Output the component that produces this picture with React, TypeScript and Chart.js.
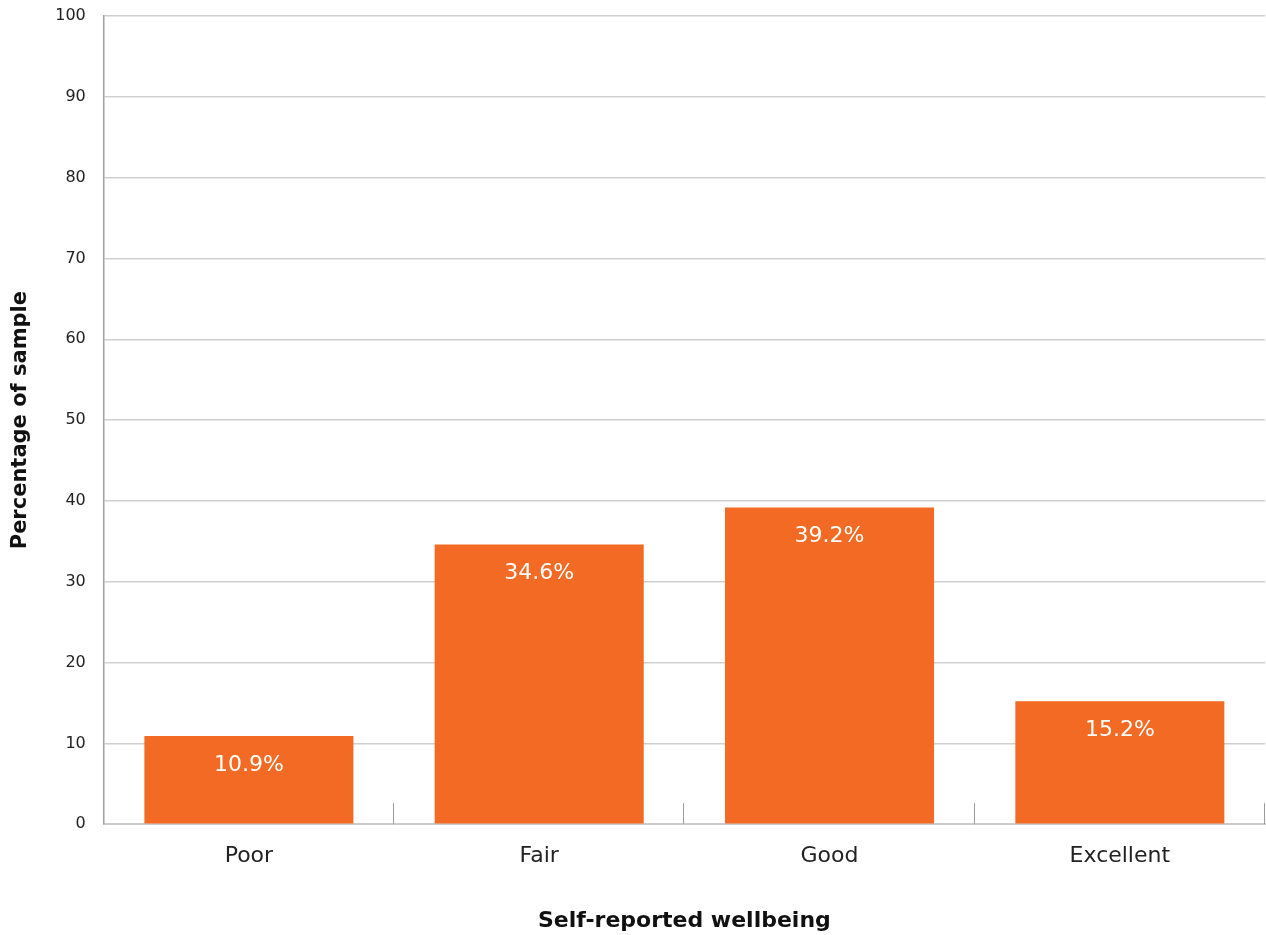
import React, { useEffect, useRef } from "react";
import { Chart, registerables } from "chart.js";

Chart.register(...registerables);

const categories = ["Poor", "Fair", "Good", "Excellent"];
const percentages = [10.9, 34.6, 39.2, 15.2];
const barLabels = ["10.9%", "34.6%", "39.2%", "15.2%"];
const yTickValues = [0, 10, 20, 30, 40, 50, 60, 70, 80, 90, 100];

const FONT = "'DejaVu Sans', 'Open Sans', sans-serif";

const barLabelPlugin = {
  id: "barLabelPlugin",
  afterDatasetsDraw(chart: any) {
    const ctx = chart.ctx;
    const meta = chart.getDatasetMeta(0);
    ctx.save();
    ctx.fillStyle = "#ffffff";
    ctx.font = `22px ${FONT}`;
    ctx.textAlign = "center";
    ctx.textBaseline = "middle";
    meta.data.forEach((bar: any, i: number) => {
      ctx.fillText(barLabels[i], bar.x, bar.y + 29);
    });
    ctx.restore();
  },
};

const categoryTickPlugin = {
  id: "categoryTickPlugin",
  afterDatasetsDraw(chart: any) {
    const ctx = chart.ctx;
    const x = chart.scales.x;
    const area = chart.chartArea;
    ctx.save();
    ctx.strokeStyle = "#9a9a9a";
    ctx.lineWidth = 1;
    for (let i = 1; i <= categories.length; i++) {
      const px = Math.round(x.getPixelForValue(i - 0.5)) - 0.5;
      ctx.beginPath();
      ctx.moveTo(px, area.bottom);
      ctx.lineTo(px, area.bottom - 21);
      ctx.stroke();
    }
    ctx.restore();
  },
};

export default function App() {
  const canvasRef = useRef<HTMLCanvasElement | null>(null);

  useEffect(() => {
    document.body.style.margin = "0";
    const canvas = canvasRef.current;
    if (!canvas) return;
    const chart = new Chart(canvas, {
      type: "bar",
      data: {
        labels: categories,
        datasets: [
          {
            data: percentages,
            backgroundColor: "#F26A23",
            borderWidth: 0,
            categoryPercentage: 0.72,
            barPercentage: 1,
          },
        ],
      },
      options: {
        animation: false,
        responsive: false,
        maintainAspectRatio: false,
        layout: { padding: { top: 16, right: 1, left: 8, bottom: 1 } },
        plugins: {
          legend: { display: false },
          tooltip: { enabled: false },
        },
        scales: {
          x: {
            grid: { display: false, drawTicks: false },
            border: { display: true, color: "#cccccc", width: 2 },
            ticks: {
              color: "#222222",
              font: { family: FONT, size: 22 },
              padding: 19,
            },
            title: {
              display: true,
              text: "Self-reported wellbeing",
              color: "#111111",
              font: { family: FONT, size: 22, weight: "bold" },
              padding: { top: 19, bottom: 0 },
            },
          },
          y: {
            min: 0,
            max: 100,
            afterBuildTicks(scale: any) {
              scale.ticks = yTickValues.map((v) => ({ value: v }));
            },
            afterFit(scale: any) {
              scale.paddingTop = 0;
            },
            grid: { color: "#cfcfcf", lineWidth: 1.5, drawTicks: false },
            border: { display: true, color: "#a0a0a0", width: 1.5 },
            ticks: {
              color: "#222222",
              font: { family: FONT, size: 16 },
              padding: 18,
            },
            title: {
              display: true,
              text: "Percentage of sample",
              color: "#111111",
              font: { family: FONT, size: 21, weight: "bold" },
              padding: { top: 0, bottom: 4 },
            },
          },
        },
      },
      plugins: [barLabelPlugin, categoryTickPlugin],
    });
    return () => chart.destroy();
  }, []);

  return (
    <div style={{ position: "absolute", left: 0, top: 0, width: 1266, height: 935, background: "#fff" }}>
      <canvas ref={canvasRef} width={1266} height={935} style={{ width: 1266, height: 935 }} />
    </div>
  );
}
